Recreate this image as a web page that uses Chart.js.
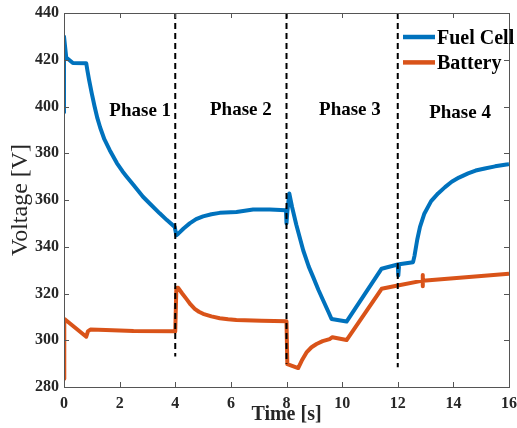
<!DOCTYPE html>
<html><head><meta charset="utf-8">
<script src="https://cdn.jsdelivr.net/npm/chart.js@4/dist/chart.umd.min.js"></script>
<style>html,body{margin:0;padding:0;background:#fff}#wrap{width:517px;height:428px}</style>
</head><body><div id="wrap"><canvas id="c" width="517" height="428"></canvas></div>
<script>
const fuelCellTime = [0, 0, 0.08, 0.32, 0.8, 0.84, 0.9, 1.0, 1.1, 1.2, 1.3, 1.45, 1.64, 1.9, 2.1, 2.24, 2.5, 2.84, 3.1, 3.44, 3.7, 3.98, 4.04, 4.1, 4.3, 4.52, 4.75, 5.0, 5.3, 5.6, 6.2, 6.8, 7.4, 7.98, 8.0, 8.03, 8.1, 8.2, 8.35, 8.6, 8.8, 8.96, 9.15, 9.32, 9.5, 9.62, 10.16, 11.42, 12.0, 12.02, 12.05, 12.55, 12.6, 12.7, 12.8, 12.95, 13.2, 13.45, 13.7, 13.94, 14.2, 14.53, 14.8, 15.13, 15.5, 15.97, 16];
const fuelCellVoltage = [397, 430, 421, 418.6, 418.5, 415.5, 411.5, 405.5, 400, 395, 391, 386, 381.4, 375.8, 372.3, 370.2, 366.4, 361.4, 358.3, 354.3, 351.4, 348.5, 344.9, 345.5, 347.8, 350, 351.8, 353, 353.9, 354.5, 354.9, 355.9, 355.9, 355.6, 350, 355, 362.8, 357, 349.5, 338.5, 331.5, 327, 321.5, 317, 312.3, 309.1, 308, 330.6, 332.4, 327.7, 332.5, 333.4, 336, 343, 348.5, 354, 359.5, 362.8, 365.5, 367.8, 369.6, 371.4, 372.6, 373.5, 374.4, 375.3, 375.4];
const batteryTime = [0, 0.01, 0.05, 0.8, 0.86, 0.95, 1.5, 2.5, 4.0, 4.04, 4.1, 4.25, 4.4, 4.55, 4.7, 4.85, 5.0, 5.3, 5.6, 5.9, 6.2, 7.1, 8.0, 8.03, 8.42, 8.55, 8.72, 8.9, 9.08, 9.3, 9.55, 9.65, 10.16, 11.42, 12.0, 12.9, 12.9, 12.9, 12.9, 16];
const batteryVoltage = [283.5, 309, 308.8, 301.5, 303.8, 304.6, 304.4, 304, 303.8, 322.3, 322.5, 320, 317.7, 315.3, 313.4, 312.2, 311.3, 310.2, 309.4, 309, 308.7, 308.3, 308.1, 289.8, 288.1, 291.3, 294.8, 297, 298.4, 299.6, 300.5, 301.3, 300.1, 322, 323.4, 325.5, 327.9, 323.1, 325.5, 328.5];
const phaseBoundaries = [4, 8, 12];
const phaseLineBottoms = [293, 290, 288.5];
const phaseLineTop = 440;
const phaseLabels = ['Phase 1', 'Phase 2', 'Phase 3', 'Phase 4'];
const phaseLabelTimes = [2.74, 6.36, 10.28, 14.24];
const phaseLabelVoltages = [398, 398.5, 398.5, 397];
const xTickValues = [0, 2, 4, 6, 8, 10, 12, 14, 16];
const yTickValues = [280, 300, 320, 340, 360, 380, 400, 420, 440];
const seriesNames = ['Fuel Cell', 'Battery'];
const xTitle = 'Time [s]';
const yTitle = 'Voltage [V]';

const FONT = "'Liberation Serif', 'Times New Roman', serif";
const AXIS = '#262626';

function pts(xs, ys) { return xs.map((x, i) => ({x: x, y: ys[i]})); }

const dashSets = phaseBoundaries.map((b, i) => ({
  label: '', inLegend: false,
  data: [{x: b, y: phaseLineTop}, {x: b, y: phaseLineBottoms[i]}],
  borderColor: '#000', borderWidth: 2, borderDash: [6, 4],
  pointRadius: 0, tension: 0, fill: false
}));

const frame = {
  id: 'frame',
  afterDatasetsDraw(chart) {
    const {ctx, chartArea: a, scales: {x, y}} = chart;
    ctx.save();
    ctx.strokeStyle = '#555';
    ctx.lineWidth = 1;
    ctx.beginPath();
    xTickValues.forEach(v => {
      const p = Math.round(x.getPixelForValue(v)) + 0.5;
      ctx.moveTo(p, a.bottom); ctx.lineTo(p, a.bottom - 5);
      ctx.moveTo(p, a.top); ctx.lineTo(p, a.top + 5);
    });
    yTickValues.forEach(v => {
      const p = Math.round(y.getPixelForValue(v)) + 0.5;
      ctx.moveTo(a.left, p); ctx.lineTo(a.left + 5, p);
      ctx.moveTo(a.right, p); ctx.lineTo(a.right - 5, p);
    });
    ctx.stroke();
    ctx.strokeRect(Math.round(a.left) + 0.5, Math.round(a.top) + 0.5, Math.round(a.right - a.left), Math.round(a.bottom - a.top));
    ctx.restore();
  },
  afterDraw(chart) {
    const {ctx, chartArea: a, scales: {x, y}} = chart;
    ctx.save();
    ctx.fillStyle = '#000';
    ctx.font = 'bold 19px ' + FONT;
    ctx.textAlign = 'center';
    ctx.textBaseline = 'middle';
    phaseLabels.forEach((t, i) => {
      ctx.fillText(t, x.getPixelForValue(phaseLabelTimes[i]), y.getPixelForValue(phaseLabelVoltages[i]));
    });
    const items = chart.data.datasets.filter(d => d.inLegend);
    ctx.textAlign = 'left';
    ctx.font = 'bold 20px ' + FONT;
    items.forEach((d, i) => {
      const ly = a.top + 24 + i * 25.4;
      ctx.strokeStyle = d.borderColor;
      ctx.lineWidth = 4.5;
      ctx.beginPath();
      ctx.moveTo(a.right - 106, ly); ctx.lineTo(a.right - 74, ly);
      ctx.stroke();
      ctx.fillStyle = '#000';
      ctx.fillText(d.label, a.right - 72, ly + 1.5);
    });
    ctx.restore();
  }
};

new Chart(document.getElementById('c'), {
  type: 'line',
  data: {
    datasets: dashSets.concat([
      {label: seriesNames[0], inLegend: true, data: pts(fuelCellTime, fuelCellVoltage),
       borderColor: '#0072BD', backgroundColor: '#0072BD', borderWidth: 4, pointRadius: 0, tension: 0, borderJoinStyle: 'round', fill: false},
      {label: seriesNames[1], inLegend: true, data: pts(batteryTime, batteryVoltage),
       borderColor: '#D95319', backgroundColor: '#D95319', borderWidth: 4, pointRadius: 0, tension: 0, borderJoinStyle: 'round', fill: false}
    ])
  },
  options: {
    responsive: false, animation: false, devicePixelRatio: 1,
    layout: {padding: {top: 13, right: 8, left: 0, bottom: 0}},
    plugins: {legend: {display: false}, tooltip: {enabled: false}},
    scales: {
      x: {
        type: 'linear', min: 0, max: 16,
        afterBuildTicks: s => { s.ticks = xTickValues.map(v => ({value: v})); },
        ticks: {font: {family: FONT, size: 16, weight: 'bold'}, color: AXIS, padding: 7, maxRotation: 0},
        grid: {display: false, drawTicks: false},
        border: {display: false},
        title: {display: true, text: xTitle, color: AXIS, font: {family: FONT, size: 20, weight: 'bold'}, padding: {top: 0, bottom: 1}},
        afterFit: s => { s.height = 41; s.paddingLeft = 0; s.paddingRight = 0; }
      },
      y: {
        type: 'linear', min: 280, max: 440,
        afterBuildTicks: s => { s.ticks = yTickValues.map(v => ({value: v})); },
        ticks: {font: {family: FONT, size: 16, weight: 'bold'}, color: AXIS, padding: 5},
        grid: {display: false, drawTicks: false},
        border: {display: false},
        title: {display: true, text: yTitle, color: AXIS, font: {family: FONT, size: 24, weight: 'normal'}, padding: {top: 6, bottom: 0}},
        afterFit: s => { s.width = 64; s.paddingTop = 0; s.paddingBottom = 0; }
      }
    }
  },
  plugins: [frame]
});
</script>
</body></html>
